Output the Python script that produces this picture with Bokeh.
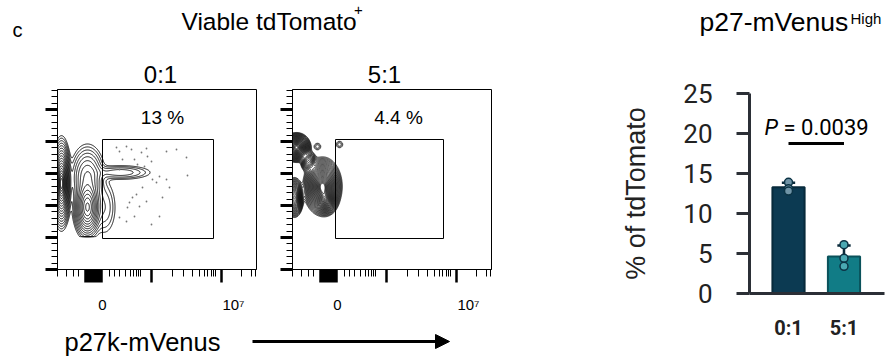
import numpy as np
from bokeh.plotting import figure
from bokeh.layouts import row, column
from bokeh.models import Range1d, LinearAxis, FixedTicker, Label, Arrow, NormalHead
from bokeh.embed import file_html
from bokeh.resources import INLINE

# ---------------- data ----------------
flow_titles = ["0:1", "5:1"]
gate_percent = ["13 %", "4.4 %"]
gate_1 = [45, 156, 31, 130]   # x0, x1, y0, y1 in display units
gate_2 = [43, 151, 31, 130]

# cell populations: centre x, centre y, sd x, sd y, weight
pop1_cx = [4, 30, 30, 63, 47]
pop1_cy = [86, 62, 92, 97, 62]
pop1_sx = [3.2, 5.0, 7.0, 15.0, 6.0]
pop1_sy = [14.5, 11, 13, 3.5, 14]
pop1_w = [1.0, 0.5, 0.12, 0.03, 0.02]
pop1_floor = 33

pop2_cx = [4, 16, 30, 33, 2, 25, 47]
pop2_cy = [122, 108, 83, 70, 72, 123, 125]
pop2_sx = [4.5, 3.0, 6.0, 4.0, 3.0, 2.5, 2.5]
pop2_sy = [4.6, 4.0, 9.0, 5.0, 6.5, 2.5, 2.5]
pop2_w = [0.9, 0.15, 1.0, 0.5, 0.5, 0.01, 0.01]

dots1_x = [59, 62, 69, 74, 77, 84, 89, 90, 94, 109, 119, 129, 65, 72, 62, 80, 87, 95,
           102, 109, 130, 79, 75, 72, 70, 82, 89, 105, 102, 94, 77, 69, 62, 112, 99, 85]
dots1_y = [122, 118, 123, 120, 110, 117, 121, 113, 108, 118, 120, 112, 110, 103, 100, 105,
           103, 90, 93, 90, 94, 75, 72, 67, 62, 63, 68, 72, 53, 45, 53, 48, 52, 82, 87, 82]

x_axis_labels = {45: "0", 176: "10\u2077"}

bar_cats = ["0:1", "5:1"]
bar_points = [[13.9, 13.1, 12.8], [6.1, 4.4, 3.4]]
bar_yticks = [0, 5, 10, 15, 20, 25]
p_value_text = "= 0.0039"

FLOW_FONT = "Liberation Sans"


def strip(w, h):
    f = figure(width=w, height=h, x_range=Range1d(0, w), y_range=Range1d(0, h),
               x_axis_type=None, y_axis_type=None, toolbar_location=None,
               output_backend="svg", min_border=0, title=None)
    f.outline_line_color = None
    f.grid.visible = False
    return f


def txt(fig, x, y, s, size, align="left", font=FLOW_FONT, style="normal", color="black"):
    fig.add_layout(Label(x=x, y=y, text=s, text_align=align, text_baseline="middle",
                         text_font=font, text_font_size=size, text_font_style=style,
                         text_color=color))


def hidden_labels(ticks):
    return dict(major_label_overrides={t: "" for t in ticks},
                major_label_text_color=None, major_label_text_font_size="1px")


def flow_panel(w, left, right, pct, pct_x, gate, cx, cy, sx, sy, wt, floor, nlev, lw):
    f = figure(width=w, height=231, x_range=Range1d(0, 199), y_range=Range1d(0, 180),
               x_axis_type=None, y_axis_type=None, toolbar_location=None,
               output_backend="svg", min_border_left=left, min_border_right=right,
               min_border_top=1, min_border_bottom=50, title=None)
    f.outline_line_color = "black"
    f.outline_line_width = 1

    xs = np.arange(-15, 200.5, 0.5)
    ys = np.arange(0, 180.5, 0.5)
    X, Y = np.meshgrid(xs, ys)
    Z = np.zeros_like(X)
    for a, b, c, d, e in zip(cx, cy, sx, sy, wt):
        Z += e * np.exp(-0.5 * (((X - a) / c) ** 2 + ((Y - b) / d) ** 2))
    if floor is not None:
        Z[Y < floor] = 0
    levels = list(np.exp(-0.5 * np.linspace(3.3, 0.35, nlev) ** 2))
    f.contour(x=xs, y=ys, z=Z, levels=levels, line_color="black", line_width=lw)

    f.quad(left=gate[0], right=gate[1], bottom=gate[2], top=gate[3],
           fill_color=None, line_color="black", line_width=1)

    thick = [float(v) for v in np.arange(28, 45, 2.0)] + [93.7, 164.3]
    thin = [0, 8.7, 16.3, 21.3, 52, 57, 62, 68, 72.7, 76.3, 78.7, 80.7, 82.7,
            115, 126, 135, 142, 147, 150.3, 154, 156, 158, 183.7, 193.7, 198]
    ax1 = LinearAxis(ticker=FixedTicker(ticks=thick, minor_ticks=thin),
                     major_tick_out=13, major_tick_in=0, minor_tick_out=7, minor_tick_in=0,
                     major_tick_line_width=2.5, minor_tick_line_width=1,
                     major_label_standoff=0, axis_line_color="black", **hidden_labels(thick))
    ax2 = LinearAxis(ticker=FixedTicker(ticks=list(x_axis_labels.keys())),
                     major_label_overrides=x_axis_labels,
                     axis_line_color=None, major_tick_line_color=None,
                     minor_tick_line_color=None, major_label_standoff=7,
                     major_label_text_font=FLOW_FONT, major_label_text_font_size="15px",
                     major_label_text_color="black")
    f.add_layout(ax1, "below")
    f.add_layout(ax2, "below")
    ymaj = [0, 32, 64, 96, 128, 160]
    ymin = [round(i * 6.4, 1) for i in range(1, 29) if i % 5 != 0]
    ay = LinearAxis(ticker=FixedTicker(ticks=ymaj, minor_ticks=ymin),
                    major_tick_out=12, major_tick_in=0, minor_tick_out=6, minor_tick_in=0,
                    major_tick_line_width=3, minor_tick_line_width=1,
                    major_label_standoff=0, axis_line_color="black", **hidden_labels(ymaj))
    f.add_layout(ay, "left")
    txt(f, pct_x, 152, pct, "19px", align="center")
    return f


# ---- top strip (full width)
top = strip(886, 47)
txt(top, 12, 18, "c", "20px")
txt(top, 181, 26.5, "Viable tdTomato", "24.5px")
txt(top, 358, 37.5, "+", "15px", align="center")
txt(top, 699, 25.2, "p27-mVenus", "26.5px")
txt(top, 850, 28.6, "High", "15px")

# ---- strip with the two sample titles
mid = strip(501, 41)
txt(mid, 160, 14, flow_titles[0], "24px", align="center")
txt(mid, 384, 14, flow_titles[1], "24px", align="center")

# ---- flow panels
f1 = flow_panel(272, 57, 16, gate_percent[0], 105, gate_1,
                pop1_cx, pop1_cy, pop1_sx, pop1_sy, pop1_w, pop1_floor, 18, 0.9)
f1.scatter(x=dots1_x, y=dots1_y, size=1.8, fill_color="#777777", line_color=None)
f2 = flow_panel(229, 20, 10, gate_percent[1], 106, gate_2,
                pop2_cx, pop2_cy, pop2_sx, pop2_sy, pop2_w, None, 32, 0.7)

# ---- bottom strip with axis title and arrow
bot = strip(501, 37)
txt(bot, 64, 15, "p27k-mVenus", "25.5px")
bot.add_layout(Arrow(end=NormalHead(size=14, fill_color="black", line_color="black"),
                     x_start=252, y_start=15, x_end=449, y_end=15,
                     line_width=3, line_color="black"))

# ---- bar chart
AX = "#2b2f36"
bx = [i + 1 for i in range(len(bar_cats))]
means = [float(np.mean(v)) for v in bar_points]
sds = [float(np.std(v, ddof=1)) for v in bar_points]
tops = [m + s for m, s in zip(means, sds)]
p3 = figure(width=385, height=309, x_range=Range1d(0.297, 2.73), y_range=Range1d(0, 25),
            x_axis_type=None, y_axis_type=None, toolbar_location=None,
            output_backend="svg", min_border_left=248, min_border_right=2,
            min_border_top=46, min_border_bottom=63, title=None)
p3.outline_line_color = None
p3.vbar(x=bx, top=means, width=0.58, bottom=0,
        fill_color=["#0c3a52", "#117c86"], line_color=["#072a3b", "#0a525b"], line_width=2)
p3.segment(x0=bx, y0=means, x1=bx, y1=tops, line_color="#0b2a3a", line_width=2.5)
p3.segment(x0=[x - 0.12 for x in bx], x1=[x + 0.12 for x in bx], y0=tops, y1=tops,
           line_color="#0b2a3a", line_width=2.5)
pt_x, pt_y, pt_c = [], [], []
for x, vals, c in zip(bx, bar_points, ["#6f94a7", "#4aa8b2"]):
    for v in vals:
        pt_x.append(x)
        pt_y.append(v)
        pt_c.append(c)
p3.scatter(x=pt_x, y=pt_y, size=8, fill_color=pt_c, line_color="#0b3345", line_width=1.5)

p3.segment(x0=[1], x1=[2], y0=[18.75], y1=[18.75], line_color="black", line_width=3)
txt(p3, 0.567, 20.7, "P", "22px", font="Roboto", style="italic")
txt(p3, 0.91, 20.7, p_value_text, "22px", font="Roboto")

yax = LinearAxis(ticker=FixedTicker(ticks=bar_yticks, minor_ticks=[]),
                 major_tick_out=13, major_tick_in=0, major_tick_line_width=3,
                 major_tick_line_color=AX, axis_line_width=3, axis_line_color=AX,
                 major_label_standoff=24, major_label_text_font="Roboto",
                 major_label_text_font_size="26px", major_label_text_color="#222222",
                 axis_label="% of tdTomato", axis_label_text_font=FLOW_FONT,
                 axis_label_text_font_size="27px", axis_label_text_font_style="normal",
                 axis_label_text_color="#222222", axis_label_standoff=29)
p3.add_layout(yax, "left")
xax = LinearAxis(ticker=FixedTicker(ticks=bx, minor_ticks=[]),
                 major_label_overrides={x: c for x, c in zip(bx, bar_cats)},
                 major_tick_line_color=None, axis_line_width=3, axis_line_color=AX,
                 major_label_standoff=16, major_label_text_font="Roboto",
                 major_label_text_font_style="bold", major_label_text_font_size="20px",
                 major_label_text_color="#222222")
p3.add_layout(xax, "below")

layout = column(top, row(column(mid, row(f1, f2), bot), p3))
open("out.html", "w").write(file_html(layout, INLINE))
